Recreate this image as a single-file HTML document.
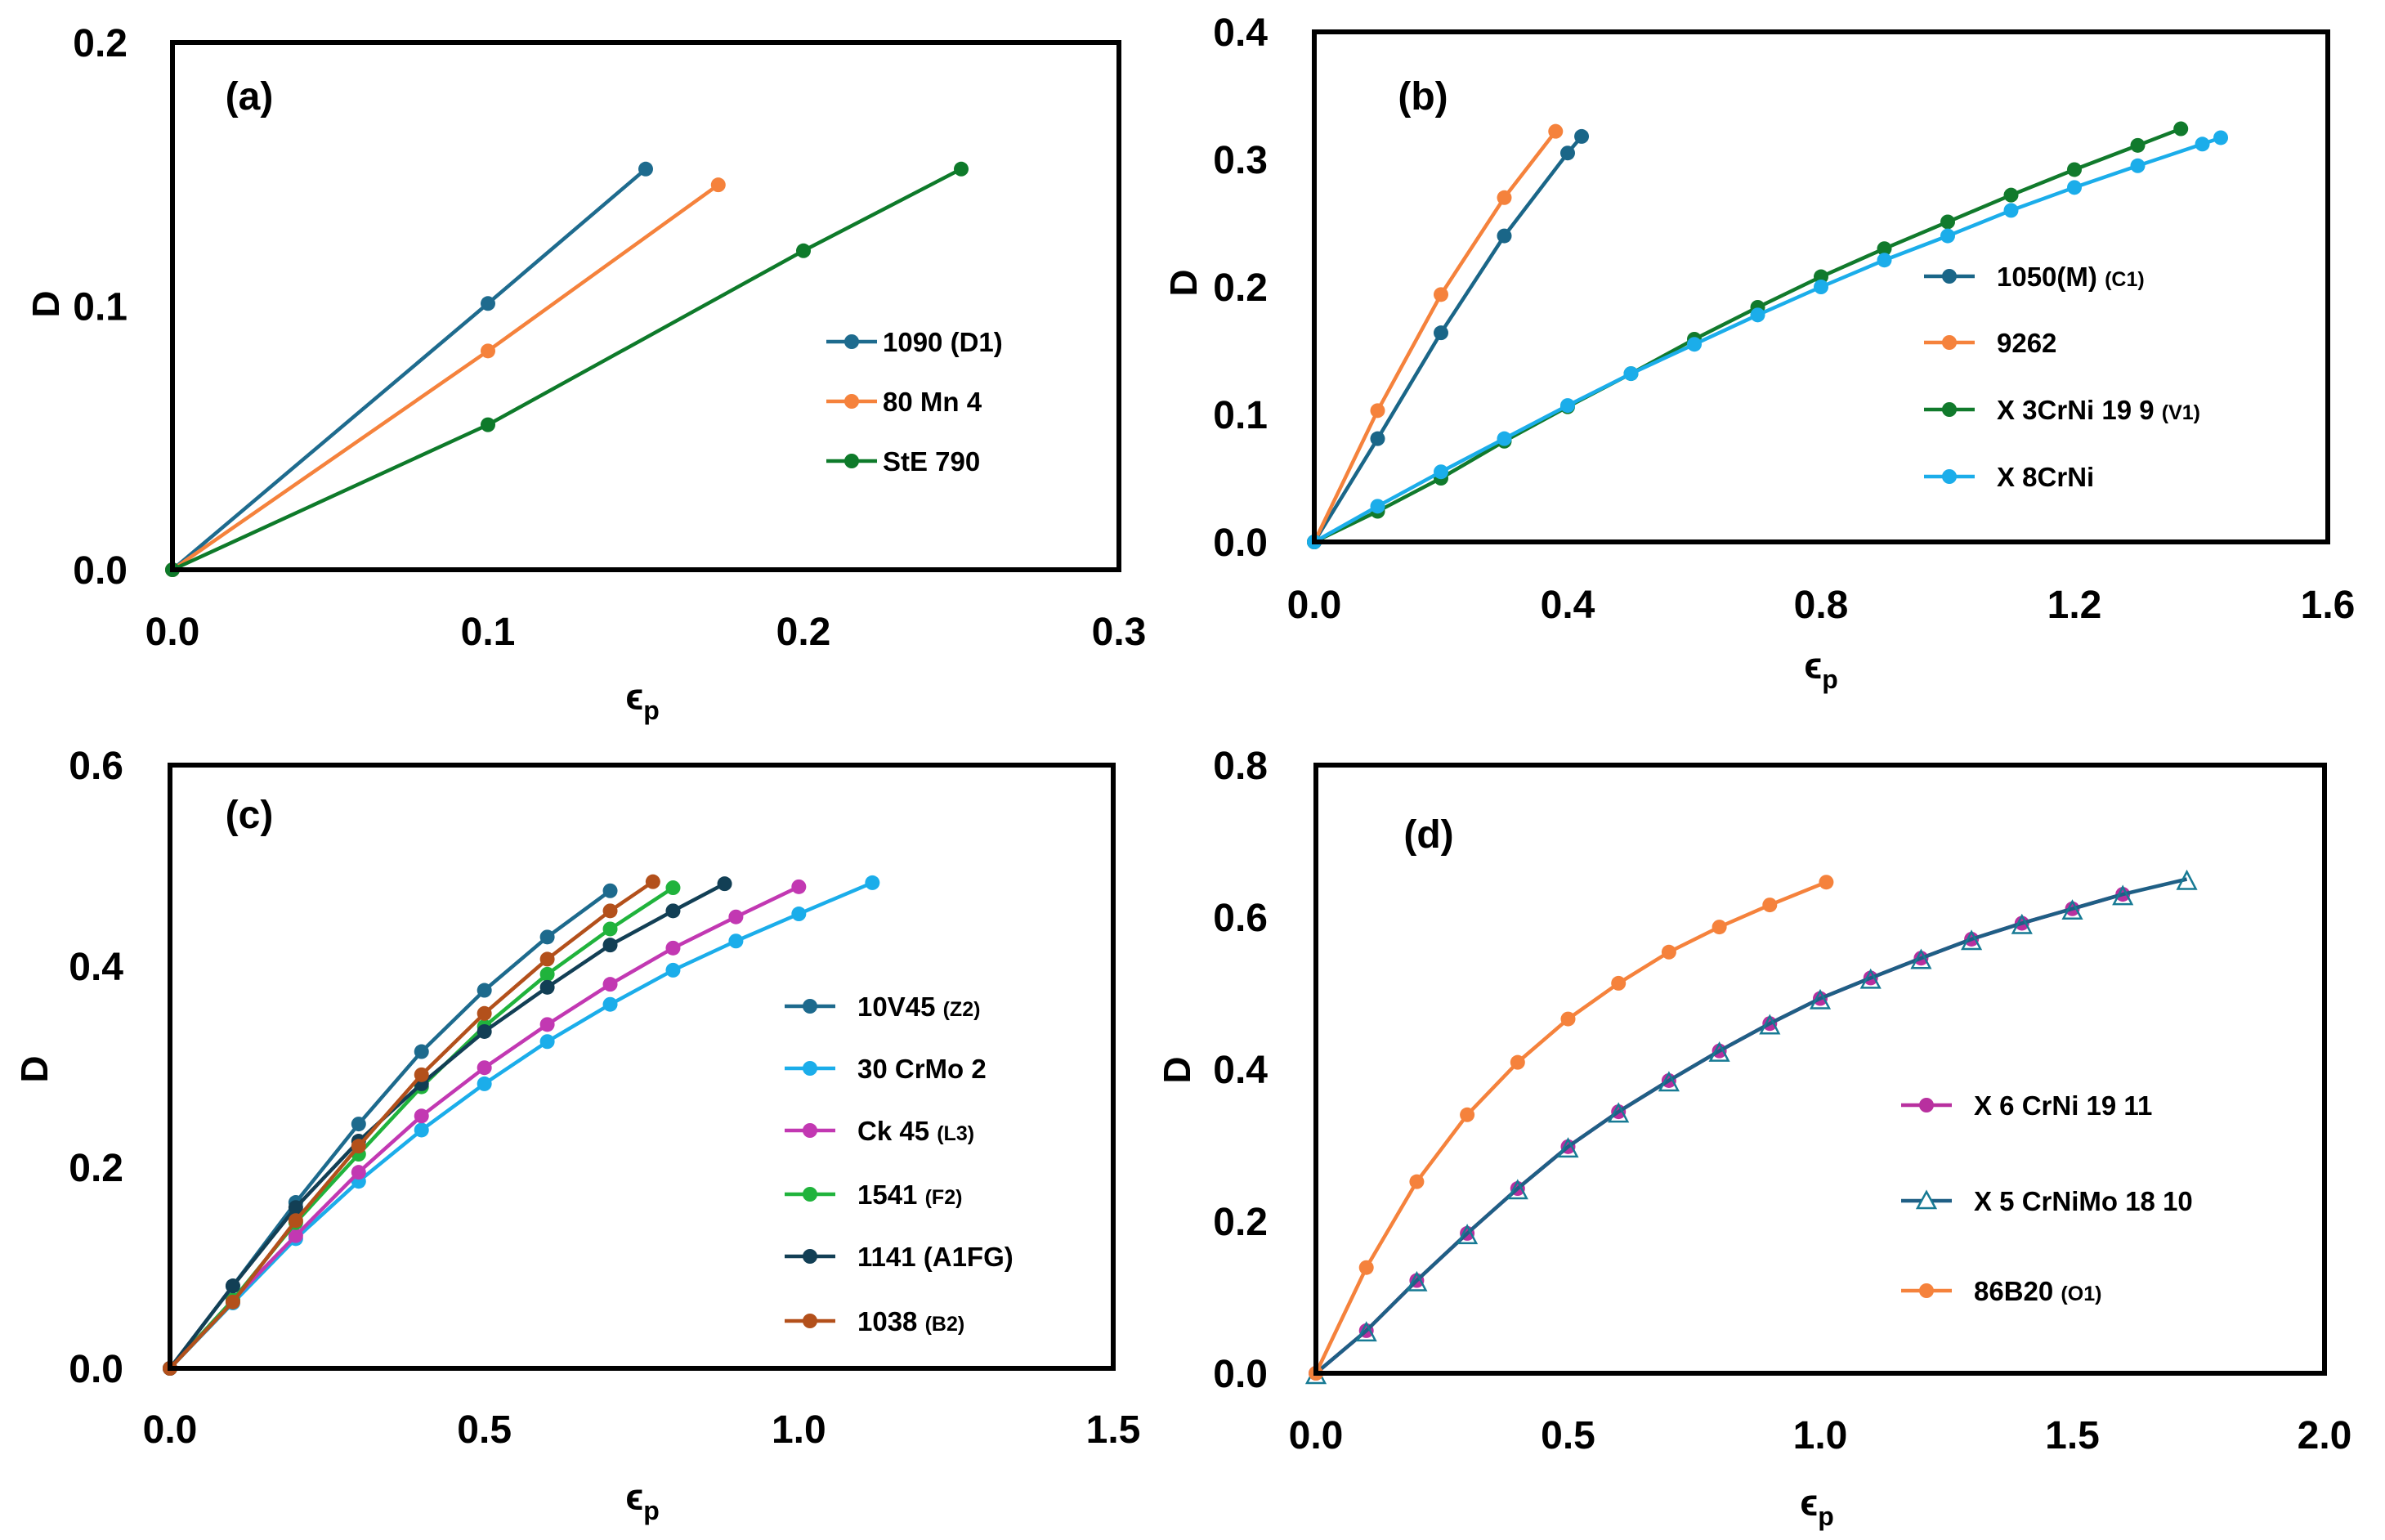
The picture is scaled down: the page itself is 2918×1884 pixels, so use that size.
<!DOCTYPE html>
<html><head><meta charset="utf-8"><style>
html,body{margin:0;padding:0;background:#fff;}
svg{display:block;font-family:"Liberation Sans",sans-serif;font-weight:bold;}
</style></head><body>
<svg id="fig" width="2918" height="1884" viewBox="0 0 2918 1884"></svg>
<script>
// ---- panel (a) data ----
const aX_1090=[0,0.1,0.15], aY_1090=[0,0.101,0.152];
const aX_80Mn4=[0,0.1,0.173], aY_80Mn4=[0,0.083,0.146];
const aX_StE=[0,0.1,0.2,0.25], aY_StE=[0,0.055,0.121,0.152];
const aXTicks=["0.0","0.1","0.2","0.3"], aYTicks=["0.0","0.1","0.2"];
// ---- panel (b) data ----
const bX_1050=[0,0.1,0.2,0.3,0.4,0.422], bY_1050=[0,0.081,0.164,0.240,0.305,0.318];
const bX_9262=[0,0.1,0.2,0.3,0.381], bY_9262=[0,0.103,0.194,0.270,0.322];
const bX_X3=[0,0.1,0.2,0.3,0.4,0.5,0.6,0.7,0.8,0.9,1.0,1.1,1.2,1.3,1.368];
const bY_X3=[0,0.024,0.050,0.079,0.106,0.132,0.159,0.184,0.208,0.230,0.251,0.272,0.292,0.311,0.324];
const bX_X8=[0,0.1,0.2,0.3,0.4,0.5,0.6,0.7,0.8,0.9,1.0,1.1,1.2,1.3,1.402,1.431];
const bY_X8=[0,0.028,0.055,0.081,0.107,0.132,0.155,0.178,0.200,0.221,0.240,0.260,0.278,0.295,0.312,0.317];
const bXTicks=["0.0","0.4","0.8","1.2","1.6"], bYTicks=["0.0","0.1","0.2","0.3","0.4"];
// ---- panel (c) data ----
const cX_10V45=[0,0.1,0.2,0.3,0.4,0.5,0.6,0.7], cY_10V45=[0,0.082,0.165,0.243,0.315,0.376,0.429,0.475];
const cX_30CrMo=[0,0.1,0.2,0.3,0.4,0.5,0.6,0.7,0.8,0.9,1.0,1.117], cY_30CrMo=[0,0.065,0.129,0.186,0.237,0.283,0.325,0.362,0.396,0.425,0.452,0.483];
const cX_Ck45=[0,0.1,0.2,0.3,0.4,0.5,0.6,0.7,0.8,0.9,1.0], cY_Ck45=[0,0.068,0.132,0.195,0.251,0.299,0.342,0.382,0.418,0.449,0.479];
const cX_1541=[0,0.1,0.2,0.3,0.4,0.5,0.6,0.7,0.8], cY_1541=[0,0.068,0.145,0.213,0.280,0.340,0.392,0.437,0.478];
const cX_1141=[0,0.1,0.2,0.3,0.4,0.5,0.6,0.7,0.8,0.882], cY_1141=[0,0.082,0.160,0.226,0.283,0.335,0.379,0.421,0.455,0.482];
const cX_1038=[0,0.1,0.2,0.3,0.4,0.5,0.6,0.7,0.768], cY_1038=[0,0.066,0.147,0.221,0.292,0.353,0.407,0.455,0.484];
const cXTicks=["0.0","0.5","1.0","1.5"], cYTicks=["0.0","0.2","0.4","0.6"];
// ---- panel (d) data ----
const dX_86B20=[0,0.1,0.2,0.3,0.4,0.5,0.6,0.7,0.8,0.9,1.012], dY_86B20=[0,0.139,0.252,0.340,0.409,0.466,0.513,0.554,0.587,0.616,0.646];
const dX_X6=[0,0.1,0.2,0.3,0.4,0.5,0.6,0.7,0.8,0.9,1.0,1.1,1.2,1.3,1.4,1.5,1.6];
const dY_X6=[0,0.056,0.122,0.184,0.243,0.298,0.344,0.385,0.424,0.460,0.493,0.520,0.546,0.571,0.592,0.611,0.630];
const dX_X5=[0,0.1,0.2,0.3,0.4,0.5,0.6,0.7,0.8,0.9,1.0,1.1,1.2,1.3,1.4,1.5,1.6,1.727];
const dY_X5=[0,0.056,0.122,0.184,0.243,0.298,0.344,0.385,0.424,0.460,0.493,0.520,0.546,0.571,0.592,0.611,0.630,0.650];
const dXTicks=["0.0","0.5","1.0","1.5","2.0"], dYTicks=["0.0","0.2","0.4","0.6","0.8"];

const NS="http://www.w3.org/2000/svg";
const svg=document.getElementById('fig');
function el(tag,attrs,parent){const e=document.createElementNS(NS,tag);for(const k in attrs)e.setAttribute(k,attrs[k]);(parent||svg).appendChild(e);return e;}

function panel(p){
  const g=el('g',{});
  
  
  const xs=v=>p.L+(v/p.xmax)*(p.R-p.L);
  const ys=v=>p.B-(v/p.ymax)*(p.B-p.T);
  p.series.forEach(s=>{
    const sg=el('g',{},g);
    
    
    const pts=s.x.map((v,i)=>xs(v)+','+ys(s.y[i])).join(' ');
    el('polyline',{points:pts,fill:'none',stroke:s.line||s.c,'stroke-width':4.5,'stroke-linejoin':'round'},sg);
    s.x.forEach((v,i)=>{
      let m;
      if(s.tri){const cx=xs(v),cy=ys(s.y[i])+3;m=el('polygon',{points:`${cx},${cy-12} ${cx-11},${cy+9} ${cx+11},${cy+9}`,fill:'none',stroke:s.c,'stroke-width':2.5},sg);}
      else m=el('circle',{cx:xs(v),cy:ys(s.y[i]),r:9,fill:s.c},sg);
      
      
    });
  });
  const fr=el('rect',{x:p.L,y:p.T,width:p.R-p.L,height:p.B-p.T,fill:'none',stroke:'#000','stroke-width':6},g);
  
  
  p.xt.forEach((t,i)=>{const v=parseFloat(t);const tx=el('text',{x:xs(v),y:p.xly+4,'text-anchor':'middle','font-size':48},g);tx.textContent=t;
    
    });
  p.yt.forEach((t,i)=>{const v=parseFloat(t);const tx=el('text',{x:p.ylx-4,y:ys(v)+17,'text-anchor':'end','font-size':48},g);tx.textContent=t;
    
    });
  const yt=el('text',{x:p.Dx,y:p.Dy,'text-anchor':'middle','font-size':46,transform:`rotate(-90 ${p.Dx} ${p.Dy})`},g);yt.textContent='D';
  
  
  const xt=el('text',{x:p.Ex,y:p.Ey,'text-anchor':'middle','font-size':46},g);
  xt.innerHTML='ϵ<tspan font-size="32" dy="12">p</tspan>';
  
  
  const pl=el('text',{x:p.plx,y:p.ply+4,'text-anchor':'middle','font-size':48},g);pl.textContent='('+p.id+')';
  
  
  p.series.forEach((s,i)=>{
    const ly=p.leg.ys[i];
    const lg=el('g',{},g);
    
    
    el('line',{x1:p.leg.x1,x2:p.leg.x1+62,y1:ly,y2:ly,stroke:s.line||s.c,'stroke-width':4.5},lg);
    const mx=p.leg.x1+31;
    if(s.tri) el('polygon',{points:`${mx},${ly-11} ${mx-11},${ly+9} ${mx+11},${ly+9}`,fill:'#fff',stroke:s.c,'stroke-width':2.5},lg);
    else el('circle',{cx:mx,cy:ly,r:9,fill:s.c},lg);
    const t=el('text',{x:p.leg.tx,y:ly+12,'font-size':33},lg);
    t.innerHTML=s.name+(s.sub?' <tspan font-size="25">'+s.sub+'</tspan>':'');
  });
}

panel({id:'a',L:211,R:1369,T:52,B:697,xmax:0.3,ymax:0.2,xt:aXTicks,yt:aYTicks,xly:785,ylx:160,Dx:72,Dy:372,Ex:786,Ey:868,plx:305,ply:130,
  leg:{x1:1011,tx:1080,ys:[418,491,564]},
  series:[{slug:'1090',name:'1090 (D1)',c:'#1e6b8e',x:aX_1090,y:aY_1090},
          {slug:'80mn4',name:'80 Mn 4',c:'#f5823c',x:aX_80Mn4,y:aY_80Mn4},
          {slug:'ste790',name:'StE 790',c:'#0e7a2a',x:aX_StE,y:aY_StE}]});
panel({id:'b',L:1608,R:2848,T:39,B:663,xmax:1.6,ymax:0.4,xt:bXTicks,yt:bYTicks,xly:752,ylx:1555,Dx:1464,Dy:346,Ex:2228,Ey:830,plx:1741,ply:130,
  leg:{x1:2354,tx:2443,ys:[338,419,501,583]},
  series:[{slug:'1050',name:'1050(M)',sub:'(C1)',c:'#1a6688',x:bX_1050,y:bY_1050},
          {slug:'9262',name:'9262',c:'#f5823c',x:bX_9262,y:bY_9262},
          {slug:'x3crni',name:'X 3CrNi 19 9',sub:'(V1)',c:'#117a2c',x:bX_X3,y:bY_X3},
          {slug:'x8crni',name:'X 8CrNi',c:'#1badea',x:bX_X8,y:bY_X8}]});
panel({id:'c',L:208,R:1362,T:936,B:1674,xmax:1.5,ymax:0.6,xt:cXTicks,yt:cYTicks,xly:1761,ylx:155,Dx:58,Dy:1308,Ex:786,Ey:1847,plx:305,ply:1009,
  leg:{x1:960,tx:1049,ys:[1231,1307,1383,1461,1537,1616]},
  series:[{slug:'10v45',name:'10V45',sub:'(Z2)',c:'#1d6a8d',x:cX_10V45,y:cY_10V45},
          {slug:'30crmo2',name:'30 CrMo 2',c:'#1badea',x:cX_30CrMo,y:cY_30CrMo},
          {slug:'ck45',name:'Ck 45',sub:'(L3)',c:'#c238b2',x:cX_Ck45,y:cY_Ck45},
          {slug:'1541',name:'1541',sub:'(F2)',c:'#20b33c',x:cX_1541,y:cY_1541},
          {slug:'1141',name:'1141 (A1FG)',c:'#123f55',x:cX_1141,y:cY_1141},
          {slug:'1038',name:'1038',sub:'(B2)',c:'#b3501b',x:cX_1038,y:cY_1038}]});
panel({id:'d',L:1610,R:2844,T:936,B:1680,xmax:2.0,ymax:0.8,xt:dXTicks,yt:dYTicks,xly:1768,ylx:1555,Dx:1456,Dy:1309,Ex:2223,Ey:1854,plx:1748,ply:1033,
  leg:{x1:2326,tx:2415,ys:[1352,1469,1579]},
  series:[{slug:'x6crni',name:'X 6 CrNi 19 11',c:'#b8309f',line:'#b8309f',x:dX_X6,y:dY_X6},
          {slug:'x5crnimo',name:'X 5 CrNiMo 18 10',c:'#177a94',line:'#1f5f85',tri:true,x:dX_X5,y:dY_X5},
          {slug:'86b20',name:'86B20',sub:'(O1)',c:'#f5823c',x:dX_86B20,y:dY_86B20}]});
</script>
</body></html>
